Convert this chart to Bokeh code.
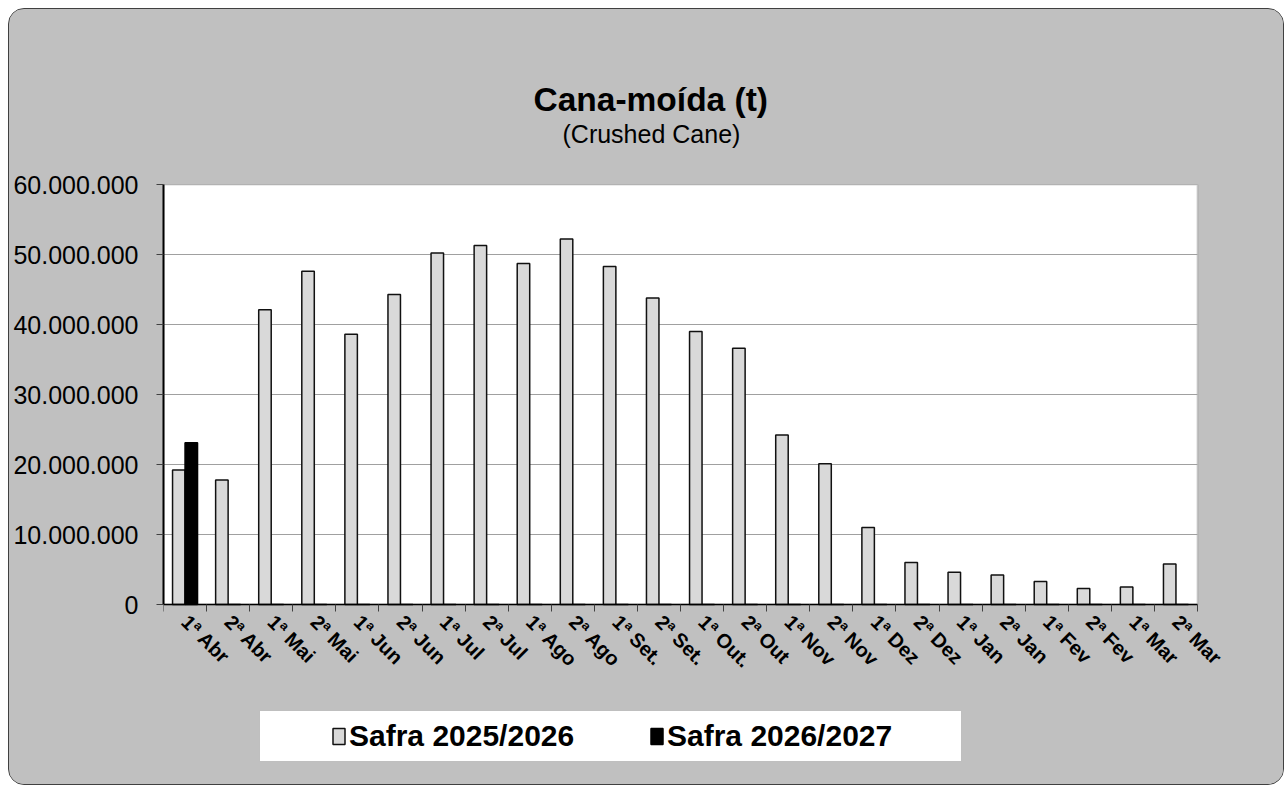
import math
from bokeh.plotting import figure
from bokeh.models import (Range1d, LinearAxis, FixedTicker, Title, BoxAnnotation,
                          CustomJSTickFormatter, Legend, LegendItem, ColumnDataSource)
from bokeh.transform import dodge
from bokeh.embed import file_html
from bokeh.resources import INLINE

categories = ["1ª Abr", "2ª Abr", "1ª Mai", "2ª Mai", "1ª Jun", "2ª Jun",
              "1ª Jul", "2ª Jul", "1ª Ago", "2ª Ago", "1ª Set.", "2ª Set.",
              "1ª Out.", "2ª Out", "1ª Nov", "2ª Nov", "1ª Dez", "2ª Dez",
              "1ª Jan", "2ª Jan", "1ª Fev", "2ª Fev", "1ª Mar", "2ª Mar"]

safra_2025_2026 = [19200000, 17800000, 42100000, 47600000, 38600000, 44300000,
                   50200000, 51300000, 48700000, 52200000, 48300000, 43800000,
                   39000000, 36600000, 24200000, 20100000, 11000000, 6000000,
                   4600000, 4200000, 3300000, 2300000, 2500000, 5800000]

safra_2026_2027 = [23100000, 0, 0, 0, 0, 0, 0, 0, 0, 0, 0, 0,
                   0, 0, 0, 0, 0, 0, 0, 0, 0, 0, 0, 0]

y_ticks = [0, 10000000, 20000000, 30000000, 40000000, 50000000, 60000000]
y_max = 60000000

series_labels = ["Safra 2025/2026", "Safra 2026/2027"]
title_text = "Cana-moída (t)"
subtitle_text = "(Crushed Cane)"

FONT = "Liberation Sans"

# layout (pixels)
W, H = 1276, 777
MB_LEFT, MB_RIGHT, MB_TOP, MB_BOTTOM = 154, 40, 175, 16
PLOT_W, PLOT_H = 1034, 420          # size of the white value area
FRAME_W = W - MB_LEFT - MB_RIGHT    # frame extends beyond it to hold labels + legend
FRAME_H = H - MB_TOP - MB_BOTTOM

n = len(categories)
x_end = n * FRAME_W / PLOT_W
y_start = -y_max * (FRAME_H - PLOT_H) / PLOT_H

centers = [i + 0.5 for i in range(n)]          # slot centres on the category scale
src = ColumnDataSource(dict(x=centers, cat=categories, a=safra_2025_2026, b=safra_2026_2027))
grid_src = ColumnDataSource(dict(y=y_ticks[1:]))

p = figure(x_range=Range1d(0, x_end), y_range=Range1d(y_start, y_max),
           width=W, height=H, output_backend="svg", toolbar_location=None,
           title=None, x_axis_location=None,
           min_border_left=MB_LEFT, min_border_right=MB_RIGHT,
           min_border_top=MB_TOP, min_border_bottom=MB_BOTTOM)

p.border_fill_color = "#C0C0C0"
p.background_fill_color = "#C0C0C0"
p.outline_line_color = None
p.styles = {"border": "1px solid #404040", "border-radius": "16px", "overflow": "hidden",
            "box-sizing": "border-box", "margin-left": "8px", "margin-top": "8px",
            "background-color": "#C0C0C0"}
p.xgrid.visible = False
p.ygrid.visible = False

# white value area
p.add_layout(BoxAnnotation(left=0, right=n, bottom=0, top=y_max, fill_color="white",
                           fill_alpha=1.0, line_color="#808080", line_width=2, level="image"))

# horizontal gridlines across the value area
p.segment(x0=0, x1=n, y0="y", y1="y", source=grid_src, line_color="#A0A0A0", line_width=1)

r1 = p.vbar(x=dodge("x", -0.145), top="a", width=0.29, source=src,
            fill_color="#D9D9D9", line_color="#111111", line_width=1.5)
r2 = p.vbar(x=dodge("x", 0.145), top="b", width=0.29, source=src,
            fill_color="black", line_color="black", line_width=1.5)

# y axis
yax = p.yaxis[0]
yax.ticker = FixedTicker(ticks=y_ticks)
yax.bounds = (0, y_max)
yax.formatter = CustomJSTickFormatter(
    code="return Math.round(tick).toString().replace(/\\B(?=(\\d{3})+(?!\\d))/g, '.');")
yax.axis_line_color = "black"
yax.axis_line_width = 2
yax.major_tick_in = 0
yax.major_tick_out = 7
yax.major_tick_line_color = "#404040"
yax.minor_tick_line_color = None
yax.major_label_standoff = 18
yax.major_label_text_font = FONT
yax.major_label_text_font_size = "25px"
yax.major_label_text_color = "black"

# x axis at value 0: ticks at category boundaries (no labels)
tick_axis = LinearAxis(fixed_location=0, bounds=(0, n),
                       ticker=FixedTicker(ticks=list(range(n + 1))),
                       formatter=CustomJSTickFormatter(code="return '';"),
                       major_label_text_font_size="0px", major_label_standoff=0,
                       axis_line_color="black", axis_line_width=1.5,
                       major_tick_in=0, major_tick_out=7, major_tick_line_color="#404040",
                       minor_tick_line_color=None)
p.add_layout(tick_axis, "below")

# category names at slot centres
cat_axis = LinearAxis(fixed_location=0, ticker=FixedTicker(ticks=centers),
                      major_label_overrides={c: lab for c, lab in zip(centers, categories)},
                      axis_line_color=None, major_tick_line_color=None,
                      major_tick_in=0, major_tick_out=0,
                      minor_tick_line_color=None,
                      major_label_orientation=-math.pi / 4,
                      major_label_text_font=FONT, major_label_text_font_style="bold",
                      major_label_text_font_size="20px", major_label_standoff=14,
                      major_label_text_color="black")
p.add_layout(cat_axis, "below")

# titles (first added sits closest to the frame)
p.add_layout(Title(text=" ", text_font_size="1px", standoff=34), "above")
p.add_layout(Title(text=subtitle_text, align="left", offset=399, standoff=0,
                   text_font=FONT, text_font_size="25px", text_font_style="normal",
                   text_color="black"), "above")
p.add_layout(Title(text=title_text, align="left", offset=370, standoff=0,
                   text_font=FONT, text_font_size="33.5px", text_font_style="bold",
                   text_color="black"), "above")

legend = Legend(items=[LegendItem(label=series_labels[0], renderers=[r1]),
                       LegendItem(label=series_labels[1], renderers=[r2])],
                orientation="horizontal", location=(96, 8),
                title=" ", title_location="left", title_text_font_size="1px", title_standoff=64,
                padding=6, margin=0, spacing=12, label_width=288, label_height=38,
                glyph_width=15, glyph_height=20, label_standoff=3,
                label_text_font=FONT, label_text_font_style="bold", label_text_font_size="30px",
                label_text_color="black",
                border_line_color="#808080", border_line_width=1.5,
                background_fill_color="white", background_fill_alpha=1.0)
p.add_layout(legend)

open("out.html", "w").write(file_html(p, INLINE))
